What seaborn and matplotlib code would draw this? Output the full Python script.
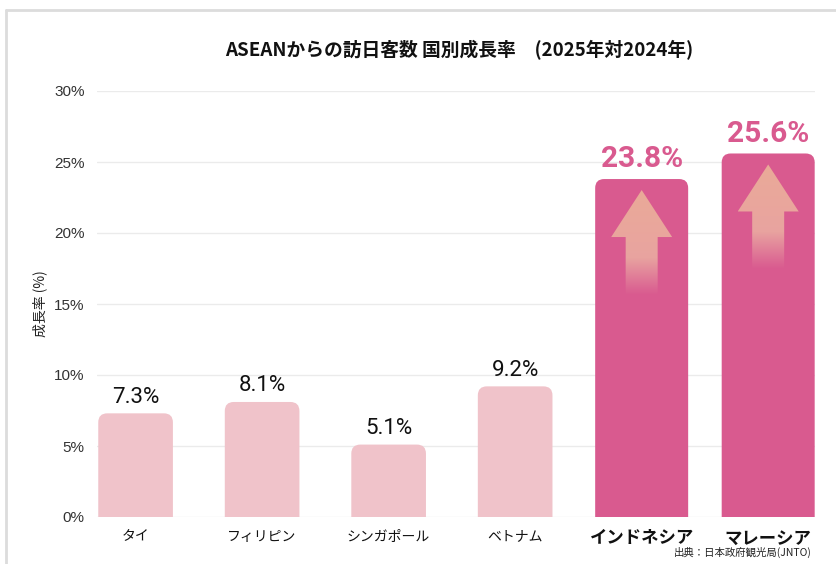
import numpy as np
import pandas as pd
import matplotlib
matplotlib.use("Agg")
import matplotlib.pyplot as plt
import seaborn as sns
from matplotlib.patches import FancyBboxPatch, Polygon
from matplotlib.lines import Line2D
from matplotlib.colors import to_rgb

# ---- data ----
countries = ["タイ", "フィリピン", "シンガポール", "ベトナム", "インドネシア", "マレーシア"]
growth = [7.3, 8.1, 5.1, 9.2, 23.8, 25.6]
highlight = [False, False, False, False, True, True]
yticks = [0, 5, 10, 15, 20, 25, 30]
title = "ASEANからの訪日客数 国別成長率　(2025年対2024年)"
ylabel = "成長率 (%)"
source = "出典：日本政府観光局(JNTO)"

LIGHT = "#F0C3CA"
DARK = "#D95A8F"
ARROW = "#EAAA98"

sns.set_theme(style="white")
plt.rcParams["font.family"] = ["Liberation Sans", "Noto Sans CJK JP", "DejaVu Sans"]
CJK = ["Noto Sans CJK JP", "DejaVu Sans"]

fig = plt.figure(figsize=(8.36, 5.64), dpi=100)
ax = fig.add_axes([97 / 836, 47 / 564, (815 - 97) / 836, (517 - 91) / 564])

df = pd.DataFrame({"country": countries, "growth": growth,
                   "group": ["hi" if h else "lo" for h in highlight]})
sns.barplot(data=df, x="country", y="growth", hue="group",
            palette={"hi": DARK, "lo": LIGHT}, dodge=False, legend=False,
            width=0.6, ax=ax, zorder=2)

ax.set_xlim(-0.305, 5.37)
ax.set_ylim(0, 30)
ax.set_yticks(yticks)
ax.set_yticklabels([f"{t}%" for t in yticks], fontsize=11, color="#333333",
                   family=["Liberation Sans"])
ax.tick_params(axis="y", length=0, pad=9)
ax.tick_params(axis="x", length=0, pad=9)
ax.set_xlabel("")
ax.set_ylabel("")
for s in ax.spines.values():
    s.set_visible(False)
ax.grid(axis="y", color="#ebebeb", linewidth=1, zorder=0)
ax.grid(axis="x", visible=False)
ax.set_axisbelow(True)

fig.canvas.draw()
p0 = ax.transData.transform((0, 0))
px_x = ax.transData.transform((1, 0))[0] - p0[0]
px_y = ax.transData.transform((0, 1))[1] - p0[1]

radius_px = 9
bars = [p for p in ax.patches if p.get_height() > 0]
bars = sorted(bars, key=lambda p: p.get_x())
for i, (b, v, h) in enumerate(zip(bars, growth, highlight)):
    cx = b.get_x() + b.get_width() / 2
    w = 0.735 if h else 0.59
    color = DARK if h else LIGHT
    b.set_visible(False)
    rx = radius_px / px_x
    fb = FancyBboxPatch((cx - w / 2, -2), w, v + 2,
                        boxstyle=f"round,pad=0,rounding_size={rx}",
                        mutation_aspect=px_x / px_y,
                        facecolor=color, edgecolor="none", zorder=2)
    ax.add_patch(fb)
    if h:
        ax.annotate(f"{v:.1f}%", (cx, v), xytext=(0, 4), textcoords="offset points",
                    ha="center", va="bottom", fontsize=21.5, fontweight="bold",
                    color=DARK, family=["Roboto"])
        # gradient arrow
        tip = v - 11 / px_y
        head_h = 47 / px_y
        shaft_end = tip - 105 / px_y
        hw = 30.5 / px_x
        sw = 16 / px_x
        pts = [(cx, tip), (cx + hw, tip - head_h), (cx + sw, tip - head_h),
               (cx + sw, shaft_end), (cx - sw, shaft_end), (cx - sw, tip - head_h),
               (cx - hw, tip - head_h)]
        poly = Polygon(pts, closed=True, facecolor="none", edgecolor="none",
                       transform=ax.transData)
        ax.add_patch(poly)
        n = 200
        t = np.linspace(0, 1, n)  # 0 at tip, 1 at end
        alpha = np.clip((1.0 - t) / 0.35, 0, 1)
        alpha = np.where(t < 0.6, 1.0, alpha)
        c1 = np.array(to_rgb(ARROW))
        c2 = np.array(to_rgb("#E8A0A4"))
        cols = c1[None, :] * (1 - t[:, None]) + c2[None, :] * t[:, None]
        arr = np.zeros((n, 2, 4))
        arr[:, :, :3] = cols[:, None, :]
        arr[:, :, 3] = alpha[:, None]
        im = ax.imshow(arr, extent=[cx - hw, cx + hw, shaft_end, tip],
                       aspect="auto", origin="upper", zorder=3, interpolation="bilinear")
        im.set_clip_path(poly)
    else:
        ax.annotate(f"{v:.1f}%", (cx, v), xytext=(0, 4), textcoords="offset points",
                    ha="center", va="bottom", fontsize=16, color="#111111",
                    family=["Roboto"])

ax.set_xlim(-0.305, 5.37)
ax.set_ylim(0, 30)

ax.set_xticks(range(len(countries)))
ax.set_xticklabels(countries)
for lbl, h in zip(ax.get_xticklabels(), highlight):
    lbl.set_fontfamily(CJK)
    lbl.set_color("#111111")
    if h:
        lbl.set_fontsize(12.5)
        lbl.set_fontweight("bold")
    else:
        lbl.set_fontsize(10)

fig.text(459.5 / 836, 1 - 50 / 564, title, ha="center", va="center",
         fontsize=13.5, fontweight="bold", color="#111111", family=CJK)
fig.text(40 / 836, 1 - 304 / 564, ylabel, rotation=90, ha="center", va="center",
         fontsize=10, color="#222222", family=CJK)
fig.text(812 / 836, 1 - 552 / 564, source, ha="right", va="center",
         fontsize=7.5, color="#222222", family=CJK)

# frame lines
fig.add_artist(Line2D([6 / 836, 1], [1 - 10 / 564] * 2, transform=fig.transFigure,
                      color="#dcdcdc", linewidth=2))
fig.add_artist(Line2D([6 / 836] * 2, [0, 1 - 10 / 564], transform=fig.transFigure,
                      color="#dcdcdc", linewidth=2))

fig.savefig("out.png", dpi=100)
